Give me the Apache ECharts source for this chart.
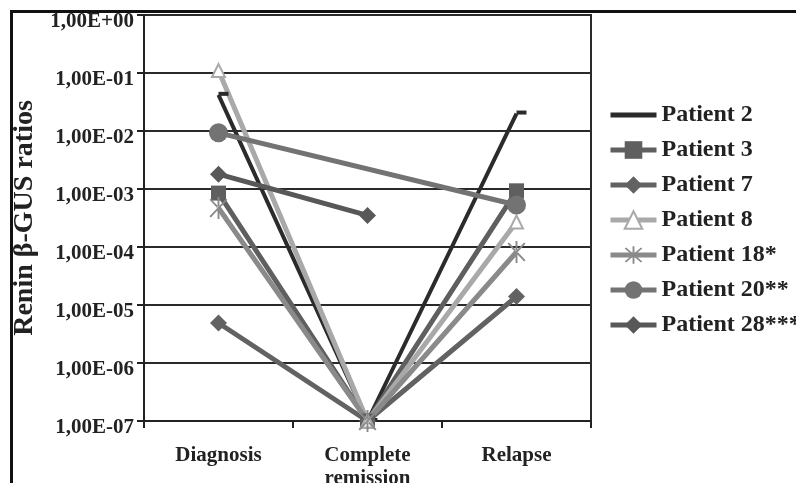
<!DOCTYPE html>
<html>
<head>
<meta charset="utf-8">
<script src="https://cdn.jsdelivr.net/npm/echarts@6/dist/echarts.min.js"></script>
<style>
  html, body { margin: 0; padding: 0; background: #fff; }
  #chart { width: 796px; height: 483px; }
</style>
</head>
<body>
<div id="chart"></div>
<script>
// Time points
const categories = ['Diagnosis', 'Complete\nremission', 'Relapse'];

// Renin / β-GUS ratios per patient (null = no measurement)
const patient2  = [4.2e-2, 1e-7, 2.0e-2];
const patient3  = [8.5e-4, 1e-7, 9.3e-4];
const patient7  = [4.9e-6, 1e-7, 1.4e-5];
const patient8  = [1.1e-1, 1e-7, 2.7e-4];
const patient18 = [4.7e-4, 1e-7, 8.2e-5];
const patient20 = [9.3e-3, null, 5.3e-4];
const patient28 = [1.8e-3, 3.5e-4, null];

// Y tick labels, from 1E-07 up to 1E+00
const yTickLabels = ['1,00E-07', '1,00E-06', '1,00E-05', '1,00E-04',
                     '1,00E-03', '1,00E-02', '1,00E-01', '1,00E+00'];

const FONT = '"Liberation Serif", "Times New Roman", serif';

// Asterisk marker built from three thin bars
const asterisk = 'path://M9.2 0 L10.8 0 L10.8 20 L9.2 20 Z ' +
  'M2.4 2.53 L16.4 18.53 L17.6 17.47 L3.6 1.47 Z ' +
  'M17.6 2.53 L3.6 18.53 L2.4 17.47 L16.4 1.47 Z';

function lineSeries(name, data, color, symbol, size, extra) {
  return Object.assign({
    name: name,
    type: 'line',
    data: data,
    symbol: symbol,
    symbolSize: size,
    showAllSymbol: true,
    lineStyle: { color: color, width: 5 },
    itemStyle: { color: color },
    emphasis: { disabled: true },
    animation: false
  }, extra || {});
}

const chart = echarts.init(document.getElementById('chart'), null, { renderer: 'canvas' });

chart.setOption({
  backgroundColor: '#fff',
  animation: false,
  grid: {
    left: 144, right: 205, top: 15, bottom: 62,
    show: true, borderColor: '#2a2a2a', borderWidth: 2,
    containLabel: false,
    outerBoundsMode: 'none'
  },
  xAxis: {
    type: 'category',
    data: categories,
    boundaryGap: true,
    axisLine: { lineStyle: { color: '#222', width: 2 } },
    axisTick: { show: true, length: 7, lineStyle: { color: '#222', width: 2 } },
    axisLabel: {
      color: '#222', fontFamily: FONT, fontWeight: 'bold', fontSize: 21,
      margin: 23, lineHeight: 23
    }
  },
  yAxis: {
    type: 'log',
    logBase: 10,
    min: 1e-7,
    max: 1,
    name: 'Renin β-GUS ratios',
    nameLocation: 'middle',
    nameRotate: 90,
    nameGap: 105,
    nameTextStyle: { color: '#222', fontFamily: FONT, fontWeight: 'bold', fontSize: 28 },
    axisLine: { show: true, lineStyle: { color: '#222', width: 2 } },
    axisTick: { show: true, length: 7, lineStyle: { color: '#222', width: 2 } },
    splitLine: { show: true, lineStyle: { color: '#2a2a2a', width: 2 } },
    axisLabel: {
      color: '#222', fontFamily: FONT, fontWeight: 'bold', fontSize: 21,
      margin: 10, verticalAlign: 'top', lineHeight: 14,
      formatter: function (v) {
        const e = Math.round(Math.log10(v));
        return yTickLabels[e + 7];
      }
    }
  },
  legend: {
    orient: 'vertical',
    left: 603,
    top: 98,
    itemWidth: 46,
    itemHeight: 22,
    itemGap: 11,
    lineStyle: { width: 5 },
    textStyle: { color: '#222', fontFamily: FONT, fontWeight: 'bold', fontSize: 24 },
    data: [
      { name: 'Patient 2', itemStyle: { opacity: 0 } },
      'Patient 3', 'Patient 7', 'Patient 8', 'Patient 18*', 'Patient 20**', 'Patient 28***'
    ]
  },
  series: [
    lineSeries('Patient 2', patient2, '#2b2b2b', 'rect', [10, 4], { symbolOffset: [5, -1], lineStyle: { color: '#2b2b2b', width: 4 } }),
    lineSeries('Patient 3', patient3, '#5f5f5f', 'rect', 15),
    lineSeries('Patient 7', patient7, '#626262', 'diamond', 17),
    lineSeries('Patient 8', patient8, '#a9a9a9', 'emptyTriangle', 13, { itemStyle: { color: '#a9a9a9', borderWidth: 2 } }),
    lineSeries('Patient 18*', patient18, '#8a8a8a', asterisk, [18, 22]),
    lineSeries('Patient 20**', patient20, '#737373', 'circle', 19, { connectNulls: true }),
    lineSeries('Patient 28***', patient28, '#585858', 'diamond', 17)
  ],
  graphic: [
    { type: 'rect', shape: { x: 0, y: 0, width: 796, height: 10 }, style: { fill: '#fff' }, z: 100 },
    { type: 'rect', shape: { x: 10, y: 10, width: 786, height: 3 }, style: { fill: '#111' }, z: 101 },
    { type: 'rect', shape: { x: 10, y: 10, width: 3, height: 473 }, style: { fill: '#111' }, z: 101 }
  ]
});
</script>
</body>
</html>
